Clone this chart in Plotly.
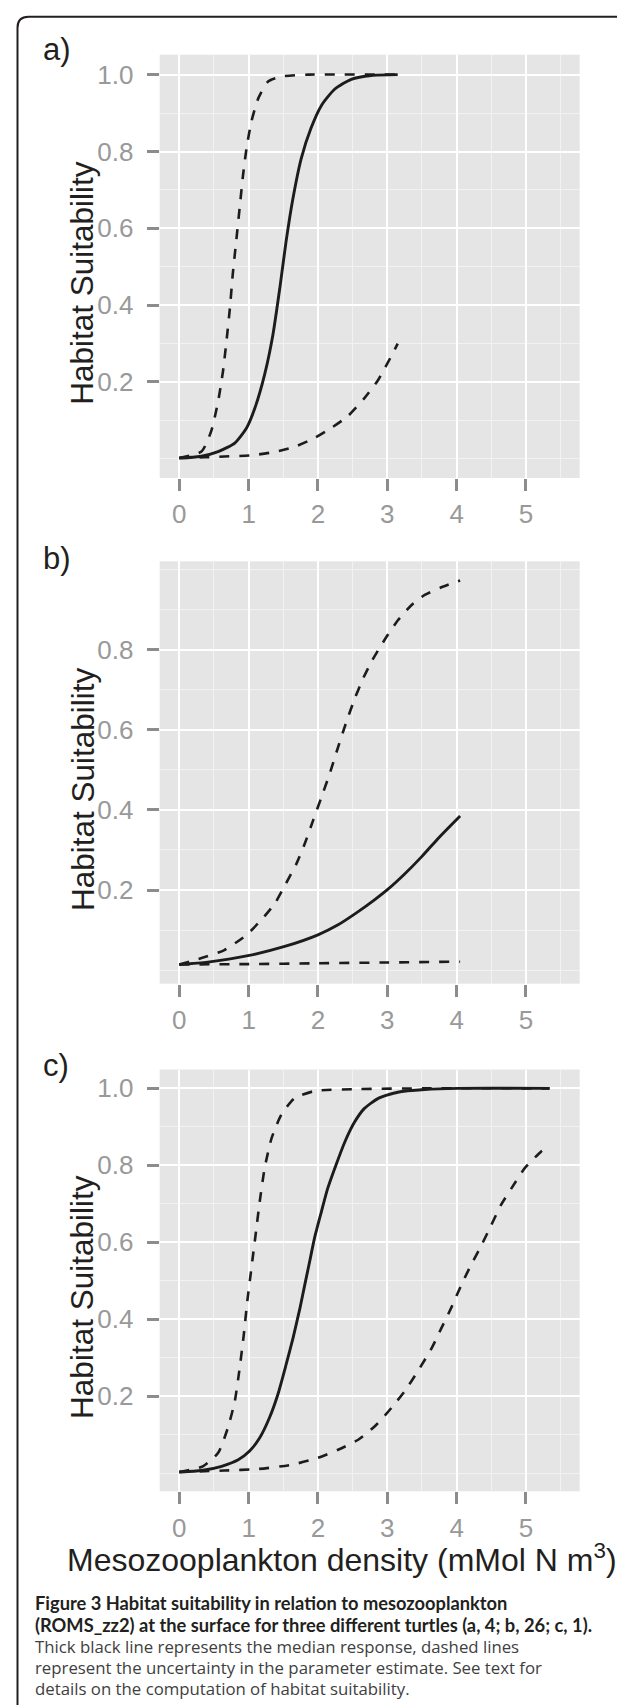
import plotly.graph_objects as go

W, H = 625, 1705

# ---------------- data ----------------
# Panel a (turtle 4)
a_med_x = [0, 0.3, 0.55, 0.8, 0.97, 1.09, 1.23, 1.35, 1.45, 1.54, 1.64, 1.76, 1.9, 2.05, 2.24, 2.48, 2.77, 3.15]
a_med_y = [0.002, 0.006, 0.018, 0.041, 0.080, 0.132, 0.219, 0.323, 0.445, 0.566, 0.679, 0.783, 0.861, 0.920, 0.962, 0.988, 0.998, 1.0]
a_hi_x = [0, 0.32, 0.46, 0.56, 0.63, 0.68, 0.73, 0.77, 0.82, 0.87, 0.92, 0.97, 1.04, 1.14, 1.28, 1.47, 1.86, 3.15]
a_hi_y = [0.002, 0.019, 0.072, 0.15, 0.228, 0.306, 0.393, 0.479, 0.566, 0.653, 0.74, 0.809, 0.878, 0.939, 0.982, 0.995, 1.0, 1.0]
a_lo_x = [0, 0.37, 0.65, 1.04, 1.38, 1.66, 1.95, 2.19, 2.43, 2.67, 2.87, 3.08, 3.15]
a_lo_y = [0.002, 0.004, 0.006, 0.009, 0.018, 0.031, 0.054, 0.080, 0.111, 0.158, 0.206, 0.275, 0.30]

# Panel b (turtle 26)
b_med_x = [0, 0.41, 0.99, 1.52, 2.0, 2.29, 2.58, 2.82, 3.01, 3.25, 3.5, 3.75, 4.05]
b_med_y = [0.014, 0.020, 0.036, 0.059, 0.088, 0.113, 0.146, 0.176, 0.202, 0.240, 0.284, 0.332, 0.385]
b_hi_x = [0, 0.32, 0.65, 0.97, 1.18, 1.38, 1.54, 1.69, 1.81, 1.93, 2.05, 2.17, 2.29, 2.41, 2.53, 2.65, 2.77, 2.89, 3.01, 3.15, 3.35, 3.54, 3.78, 4.05]
b_hi_y = [0.014, 0.030, 0.050, 0.088, 0.125, 0.167, 0.217, 0.266, 0.316, 0.374, 0.432, 0.491, 0.557, 0.620, 0.678, 0.728, 0.770, 0.805, 0.838, 0.873, 0.912, 0.937, 0.956, 0.973]
b_lo_x = [0, 1.0, 2.0, 3.0, 4.05]
b_lo_y = [0.014, 0.015, 0.017, 0.019, 0.021]

# Panel c (turtle 1)
c_med_x = [0, 0.32, 0.61, 0.85, 1.01, 1.16, 1.3, 1.42, 1.54, 1.64, 1.74, 1.81, 1.88, 1.95, 2.05, 2.14, 2.26, 2.39, 2.53, 2.67, 2.87, 3.15, 3.54, 4.02, 5.34]
c_med_y = [0.003, 0.007, 0.018, 0.035, 0.057, 0.092, 0.144, 0.204, 0.282, 0.351, 0.429, 0.49, 0.55, 0.611, 0.68, 0.74, 0.801, 0.862, 0.913, 0.948, 0.974, 0.990, 0.997, 1.0, 1.0]
c_hi_x = [0, 0.34, 0.56, 0.70, 0.80, 0.87, 0.93, 0.98, 1.04, 1.10, 1.16, 1.23, 1.33, 1.47, 1.66, 1.95, 2.58, 3.54, 5.34]
c_hi_y = [0.003, 0.018, 0.053, 0.118, 0.187, 0.273, 0.36, 0.446, 0.533, 0.619, 0.706, 0.792, 0.870, 0.931, 0.974, 0.993, 0.998, 1.0, 1.0]
c_lo_x = [0, 0.65, 1.14, 1.62, 2.0, 2.29, 2.58, 2.82, 3.06, 3.25, 3.44, 3.64, 3.78, 3.92, 4.07, 4.21, 4.36, 4.5, 4.64, 4.79, 4.98, 5.22, 5.34]
c_lo_y = [0.003, 0.007, 0.011, 0.022, 0.040, 0.061, 0.087, 0.122, 0.170, 0.213, 0.265, 0.325, 0.377, 0.429, 0.490, 0.542, 0.593, 0.645, 0.697, 0.740, 0.792, 0.836, 0.852]

panel_labels = ["a)", "b)", "c)"]
x_ticks = [0, 1, 2, 3, 4, 5]
y_ticks_ac = [0.2, 0.4, 0.6, 0.8, 1.0]
y_ticks_b = [0.2, 0.4, 0.6, 0.8]
y_title = "Habitat Suitability"
x_title = "Mesozooplankton density (mMol N m<sup>3</sup>)"
caption_bold = [
    "Figure 3 Habitat suitability in relation to mesozooplankton",
    "(ROMS_zz2) at the surface for three different turtles (a, 4; b, 26; c, 1).",
]
caption_plain = [
    "Thick black line represents the median response, dashed lines",
    "represent the uncertainty in the parameter estimate. See text for",
    "details on the computation of habitat suitability.",
]

# ---------------- layout helpers (pixel -> paper) ----------------
def fx(p):
    return p / W

def fy(p):
    return 1 - p / H

FONT = "Liberation Sans, Arial, Helvetica, sans-serif"
INK = "#231f20"

panels = [
    dict(top=46.7, bottom=470.0, yr=[-0.050, 1.052], yt=y_ticks_ac, lab_base=52.5,
         curves=[(a_lo_x, a_lo_y), (a_hi_x, a_hi_y), (a_med_x, a_med_y)]),
    dict(top=553.3, bottom=975.7, yr=[-0.034, 1.021], yt=y_ticks_b, lab_base=561.0,
         curves=[(b_lo_x, b_lo_y), (b_hi_x, b_hi_y), (b_med_x, b_med_y)]),
    dict(top=1061.5, bottom=1483.3, yr=[-0.047, 1.049], yt=y_ticks_ac, lab_base=1068.5,
         curves=[(c_lo_x, c_lo_y), (c_hi_x, c_hi_y), (c_med_x, c_med_y)]),
]

X_LEFT, X_RIGHT = 151.7, 571.7
XR = [-0.283, 5.775]

fig = go.Figure()
annotations = []
layout_axes = {}

for i, p in enumerate(panels):
    sfx = "" if i == 0 else str(i + 1)
    xa, ya = "x" + sfx, "y" + sfx
    for k, (xs, ys) in enumerate(p["curves"]):
        solid = (k == 2)
        fig.add_trace(go.Scatter(
            x=xs, y=ys, mode="lines", xaxis=xa, yaxis=ya,
            line=dict(color="#1c1c1c", width=2.9 if solid else 2.6,
                      dash="solid" if solid else "10px,10px",
                      shape="spline", smoothing=0.6),
            hoverinfo="skip", showlegend=False))
    layout_axes["xaxis" + sfx] = dict(
        domain=[fx(X_LEFT), fx(X_RIGHT)], range=XR, anchor=ya,
        tickvals=x_ticks, ticktext=[str(v) for v in x_ticks],
        showgrid=True, gridcolor="white", gridwidth=2.2, zeroline=False, showline=False,
        ticks="outside", ticklen=12, tickwidth=2.5, tickcolor="#8c8c8c",
        tickfont=dict(family=FONT, size=26, color="#999999"), ticklabelstandoff=1,
        minor=dict(dtick=0.5, tick0=0, showgrid=True, gridcolor="#F2F2F2", gridwidth=1.1, ticks=""),
        fixedrange=True)
    layout_axes["yaxis" + sfx] = dict(
        domain=[fy(p["bottom"]), fy(p["top"])], range=p["yr"], anchor=xa,
        tickvals=p["yt"], ticktext=["%.1f" % v for v in p["yt"]],
        showgrid=True, gridcolor="white", gridwidth=2.2, zeroline=False, showline=False,
        ticks="outside", ticklen=12, tickwidth=2.5, tickcolor="#8c8c8c",
        tickfont=dict(family=FONT, size=26, color="#999999"), ticklabelstandoff=8,
        minor=dict(dtick=0.1, tick0=0, showgrid=True, gridcolor="#F2F2F2", gridwidth=1.1, ticks=""),
        fixedrange=True)
    # panel letter
    annotations.append(dict(text=panel_labels[i], xref="paper", yref="paper",
                            x=fx(33), y=fy(p["lab_base"] - 0.3465 * 31), xanchor="left", yanchor="middle",
                            showarrow=False, font=dict(family=FONT, size=31, color=INK)))
    # y title
    ymid = (p["top"] + p["bottom"]) / 2 + 17
    annotations.append(dict(text=y_title, xref="paper", yref="paper",
                            x=fx(74.5), y=fy(ymid), xanchor="center", yanchor="middle",
                            textangle=-90, showarrow=False,
                            font=dict(family=FONT, size=31.5, color=INK)))

# x title
annotations.append(dict(text=x_title, xref="paper", yref="paper",
                        x=fx(334), y=fy(1549.5), xanchor="center", yanchor="middle",
                        showarrow=False, font=dict(family=FONT, size=32, color=INK)))

# caption
bold_base = [1601.7, 1624.0]
plain_base = [1645.0, 1666.0, 1686.7]
for t, b in zip(caption_bold, bold_base):
    annotations.append(dict(text="<b>" + t + "</b>", xref="paper", yref="paper",
                            x=fx(25), y=fy(b - 0.387 * 18.3), xanchor="left", yanchor="middle",
                            showarrow=False, font=dict(family="Lato, Open Sans, sans-serif", size=18.3, color=INK)))
for t, b in zip(caption_plain, plain_base):
    annotations.append(dict(text=t, xref="paper", yref="paper",
                            x=fx(25), y=fy(b - 0.388 * 16.8), xanchor="left", yanchor="middle",
                            showarrow=False, font=dict(family="Open Sans, sans-serif", size=16.8, color="#404040")))

# figure frame (rounded top-left corner, open at right and bottom)
xl, yt_, r = 9.5, 8.8, 11
frame = (f"M {fx(640)} {fy(yt_)} L {fx(xl + r)} {fy(yt_)} "
         f"Q {fx(xl)} {fy(yt_)} {fx(xl)} {fy(yt_ + r)} L {fx(xl)} {fy(1720)}")

fig.update_layout(
    width=W, height=H, autosize=False,
    margin=dict(l=0, r=0, t=0, b=0),
    paper_bgcolor="white", plot_bgcolor="#E5E5E5",
    showlegend=False,
    annotations=annotations,
    shapes=[dict(type="path", path=frame, xref="paper", yref="paper",
                 line=dict(color=INK, width=2))],
    **layout_axes,
)

fig.write_html("out.html")
